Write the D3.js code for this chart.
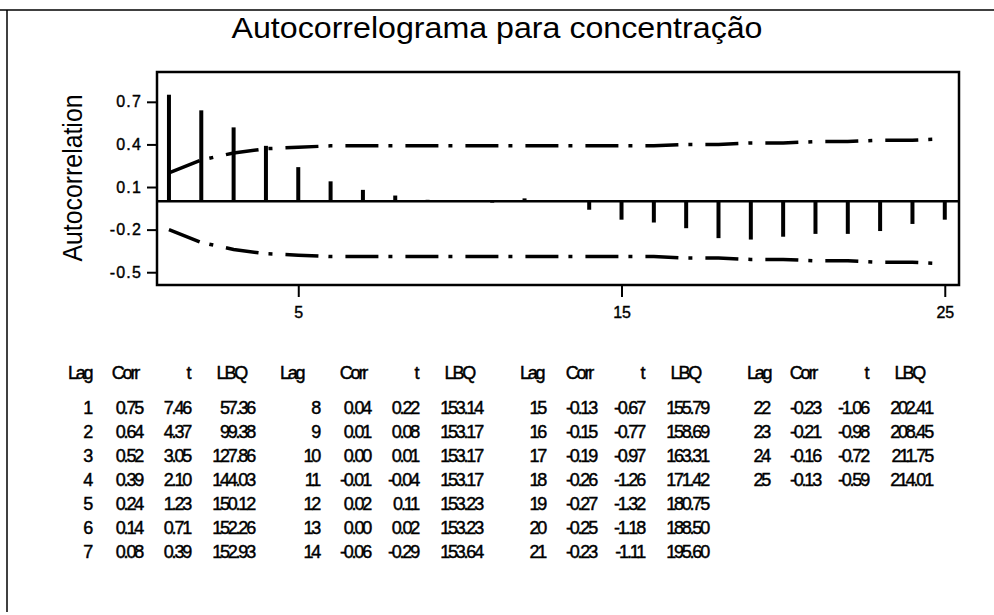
<!DOCTYPE html>
<html>
<head>
<meta charset="utf-8">
<script src="https://cdn.jsdelivr.net/npm/d3@7"></script>
<style>
  body { margin: 0; background: #fff; }
  text { font-family: "Liberation Sans", Arial, sans-serif; fill: #000; }
</style>
</head>
<body>
<div id="chart"></div>
<script>
// ACF values for concentracao, lags 1..25
var lags = [1,2,3,4,5,6,7,8,9,10,11,12,13,14,15,16,17,18,19,20,21,22,23,24,25];
var corr = [0.75,0.64,0.52,0.39,0.24,0.14,0.08,0.04,0.01,0.00,-0.01,0.02,0.00,-0.06,
            -0.13,-0.15,-0.19,-0.26,-0.27,-0.25,-0.23,-0.23,-0.21,-0.16,-0.13];
var tStat = [7.46,4.37,3.05,2.10,1.23,0.71,0.39,0.22,0.08,0.01,-0.04,0.11,0.02,-0.29,
             -0.67,-0.77,-0.97,-1.26,-1.32,-1.18,-1.11,-1.06,-0.98,-0.72,-0.59];
var lbq = [57.36,99.38,127.86,144.03,150.12,152.26,152.93,153.14,153.17,153.17,153.17,153.23,153.23,153.64,
           155.79,158.69,163.31,171.42,180.75,188.50,195.60,202.41,208.45,211.75,214.01];
// confidence limits
var limit = [0.20,0.29,0.34,0.37,0.38,0.39,0.39,0.39,0.39,0.39,0.39,0.39,0.39,0.39,
             0.39,0.39,0.40,0.40,0.41,0.41,0.42,0.42,0.43,0.43,0.44];
var yTicks = [0.7, 0.4, 0.1, -0.2, -0.5];
var xTicks = [5, 15, 25];
var headers = ["Lag", "Corr", "t", "LBQ"];

var width = 994, height = 615;
var plot = {left: 157, right: 959, top: 72, bottom: 285};

var fmt1 = function(d) { return d3.format(".1f")(d).replace("\u2212", "-"); };
var fmt2 = function(d) { return d.toFixed(2); };

var svg = d3.select("#chart").append("svg")
    .attr("width", width)
    .attr("height", height);

svg.append("rect").attr("width", width).attr("height", height).attr("fill", "#fff");

// outer frame (only top and left edges show)
svg.append("line").attr("x1", 0).attr("x2", width).attr("y1", 10).attr("y2", 10)
    .attr("stroke", "#000").attr("stroke-width", 1.5);
svg.append("line").attr("x1", 7).attr("x2", 7).attr("y1", 10).attr("y2", 612)
    .attr("stroke", "#000").attr("stroke-width", 1.5);

svg.append("text")
    .attr("x", 497).attr("y", 38)
    .attr("text-anchor", "middle")
    .attr("font-size", 29)
    .attr("textLength", 531)
    .attr("lengthAdjust", "spacingAndGlyphs")
    .text("Autocorrelograma para concentração");

var x = d3.scaleLinear().domain([0.63, 25.44]).range([plot.left, plot.right]);
var y = d3.scaleLinear().domain([-0.59, 0.91]).range([plot.bottom, plot.top]);

// y axis
var yAxis = svg.append("g")
    .attr("transform", "translate(" + plot.left + ",0)")
    .call(d3.axisLeft(y).tickValues(yTicks).tickSize(10).tickPadding(5).tickFormat(fmt1));
yAxis.select(".domain").remove();
yAxis.selectAll("line").attr("stroke", "#000").attr("stroke-width", 2);
yAxis.selectAll("text")
    .attr("font-size", 16)
    .attr("letter-spacing", "1.2px")
    .attr("stroke", "#000").attr("stroke-width", 0.4)
    .attr("font-family", "Liberation Sans, Arial, sans-serif")
    .attr("fill", "#000");

// x axis
var xAxis = svg.append("g")
    .attr("transform", "translate(0," + plot.bottom + ")")
    .call(d3.axisBottom(x).tickValues(xTicks).tickSize(12).tickPadding(10));
xAxis.select(".domain").remove();
xAxis.selectAll("line").attr("stroke", "#000").attr("stroke-width", 2);
xAxis.selectAll("text")
    .attr("font-size", 16)
    .attr("stroke", "#000").attr("stroke-width", 0.4)
    .attr("font-family", "Liberation Sans, Arial, sans-serif")
    .attr("fill", "#000");

svg.append("text")
    .attr("transform", "translate(82,178)rotate(-90)")
    .attr("text-anchor", "middle")
    .attr("font-size", 27)
    .attr("textLength", 167)
    .attr("lengthAdjust", "spacingAndGlyphs")
    .text("Autocorrelation");

// plot frame
svg.append("rect")
    .attr("x", plot.left).attr("y", plot.top)
    .attr("width", plot.right - plot.left).attr("height", plot.bottom - plot.top)
    .attr("fill", "none").attr("stroke", "#000").attr("stroke-width", 2.5);

// zero line
svg.append("line")
    .attr("x1", plot.left).attr("x2", plot.right)
    .attr("y1", y(0)).attr("y2", y(0))
    .attr("stroke", "#000").attr("stroke-width", 2.5);

// bars
svg.selectAll(".bar")
    .data(lags)
  .enter().append("line")
    .attr("class", "bar")
    .attr("x1", function(d) { return x(d); })
    .attr("x2", function(d) { return x(d); })
    .attr("y1", y(0))
    .attr("y2", function(d, i) { return y(corr[i]); })
    .attr("stroke", "#000")
    .attr("stroke-width", 4);

// confidence limits
var upper = d3.line()
    .x(function(d) { return x(d); })
    .y(function(d, i) { return y(limit[i]); });
var lower = d3.line()
    .x(function(d) { return x(d); })
    .y(function(d, i) { return y(-limit[i]); });

[upper, lower].forEach(function(gen) {
  svg.append("path")
      .attr("d", gen(lags))
      .attr("fill", "none")
      .attr("stroke", "#000")
      .attr("stroke-width", 3.5)
      .attr("stroke-dasharray", "33,10,4,13");
});

// table of values: 4 groups of 7 rows
var groupX = [91, 319, 545, 769];
var headLagX = [68, 280, 520, 747];
var table = svg.append("g")
    .attr("font-size", 18)
    .attr("letter-spacing", "-2.2px")
    .attr("stroke", "#000")
    .attr("stroke-width", 0.45);

groupX.forEach(function(gx, g) {
  var head = table.append("g");
  head.append("text").attr("x", headLagX[g]).attr("y", 379).text(headers[0]);
  head.append("text").attr("x", gx + 47).attr("y", 379).attr("text-anchor", "end").text(headers[1]);
  head.append("text").attr("x", gx + 97).attr("y", 379).attr("text-anchor", "middle").text(headers[2]);
  head.append("text").attr("x", gx + 155).attr("y", 379).attr("text-anchor", "end").text(headers[3]);

  var rows = lags.slice(g * 7, g * 7 + 7);
  rows.forEach(function(lag, r) {
    var i = lag - 1;
    var yy = 414 + r * 24;
    table.append("text").attr("x", gx).attr("y", yy).attr("text-anchor", "end").text(lag);
    table.append("text").attr("x", gx + 51).attr("y", yy).attr("text-anchor", "end").text(fmt2(corr[i]));
    table.append("text").attr("x", gx + 99).attr("y", yy).attr("text-anchor", "end").text(fmt2(tStat[i]));
    table.append("text").attr("x", gx + 163).attr("y", yy).attr("text-anchor", "end").text(fmt2(lbq[i]));
  });
});
</script>
</body>
</html>
